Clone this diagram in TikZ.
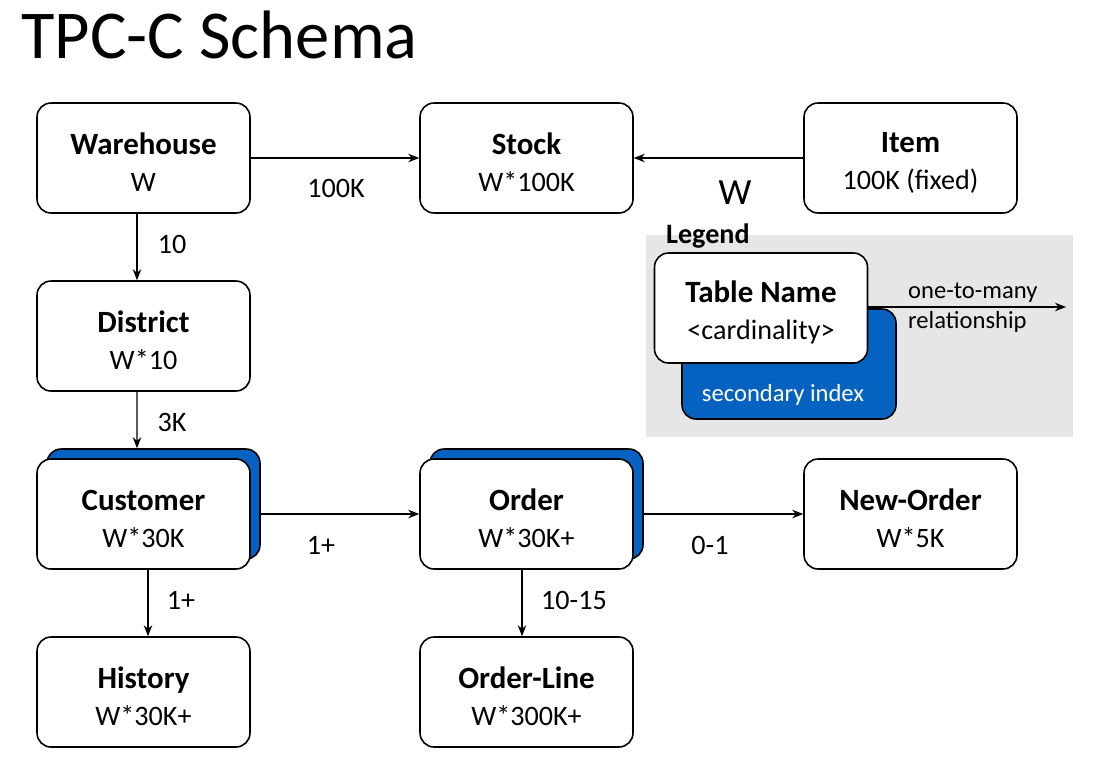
\documentclass[tikz,border=0pt]{standalone}
\usepackage{fontspec}
\setmainfont{Carlito}
\usetikzlibrary{arrows.meta}
\definecolor{idxblue}{RGB}{6,98,192}
\definecolor{legendgray}{RGB}{230,230,230}
\newcommand{\tname}[1]{{\fontsize{17.6}{20}\selectfont\bfseries\rule{0pt}{0.6cm}#1}}

\begin{document}
\begin{tikzpicture}[x=0.02cm, y=-0.02cm,
    tbl/.style={rectangle, rounded corners=0.28cm, minimum width=4.26cm, minimum height=2.2cm, draw, line width=0.9pt, fill=white, font=\fontsize{16}{21}\selectfont, align=center},
    idx/.style={tbl, fill=idxblue},
    rel/.style={-{Stealth[length=0.22cm,width=0.17cm]}, line width=0.7pt},
    card/.style={font=\fontsize{16}{20}\selectfont},
    small/.style={font=\fontsize{14}{17}\selectfont},
]
\useasboundingbox (0,0) rectangle (1109,762);

\node[anchor=base west, font=\fontsize{39}{44}\selectfont] (title) at (15,58) {TPC-C Schema};

% tables
\node[tbl] (ware) at (143.5,158) {\tname{Warehouse}\\W};
\node[tbl] (stock) at (526.5,158) {\tname{Stock}\\W*100K};
\node[tbl] (item) at (910.5,158) {\tname{Item}\\100K (fixed)};
\node[tbl] (district) at (143.5,336) {\tname{District}\\W*10};
\node[idx] (custidx) at (153.5,504) {};
\node[tbl] (cust) at (143.5,514) {\tname{Customer}\\W*30K};
\node[idx] (orderidx) at (536.5,504) {};
\node[tbl] (order) at (526.5,514) {\tname{Order}\\W*30K+};
\node[tbl] (neworder) at (910.5,514) {\tname{New-Order}\\W*5K};
\node[tbl] (hist) at (143.5,692) {\tname{History}\\W*30K+};
\node[tbl] (oline) at (526.5,692) {\tname{Order-Line}\\W*300K+};

% relationships
\draw[rel] (ware.east) -- (stock.west);
\node[card] (l100k) at (336,188) {100K};
\draw[rel] (item.west) -- (stock.east);
\node[font=\fontsize{21}{24}\selectfont] (lw) at (735,193) {W};
\draw[rel] ([xshift=-0.13cm]ware.south) -- ([xshift=-0.13cm]district.north);
\node[card] (l10) at (172,244) {10};
\draw[rel] ([xshift=-0.13cm]district.south) -- ([xshift=-0.33cm]custidx.north);
\node[card] (l3k) at (172,422) {3K};
\draw[rel] (custidx.east |- cust.east) -- (order.west);
\node[card] (l1a) at (321,545) {1+};
\draw[rel] (orderidx.east |- order.east) -- (neworder.west);
\node[card] (l01) at (710,545) {0-1};
\draw[rel] ([xshift=0.09cm]cust.south) -- ([xshift=0.09cm]hist.north);
\node[card] (l1b) at (181,600) {1+};
\draw[rel] ([xshift=-0.09cm]order.south) -- ([xshift=-0.09cm]oline.north);
\node[card] (l1015) at (574,600) {10-15};

% legend
\fill[legendgray] (646,235) rectangle (1073,437);
\node[anchor=west, font=\fontsize{16}{18}\selectfont\bfseries] (leg) at (660,236) {Legend};
\node[idx, minimum width=4.28cm, minimum height=2.2cm] (legidx) at (789,364) {};
\node[small, text=white] (legidxtxt) at (783,395) {secondary index};
\node[tbl] (legtbl) at (761,308) {\tname{Table Name}\\\textless cardinality\textgreater};
\coordinate (legend) at (1066,307);
\draw[rel] (legtbl.east |- legend) -- (legend);
\node[small, anchor=west, align=left] (legrel) at (902,308) {one-to-many\\relationship};
\end{tikzpicture}
\end{document}
